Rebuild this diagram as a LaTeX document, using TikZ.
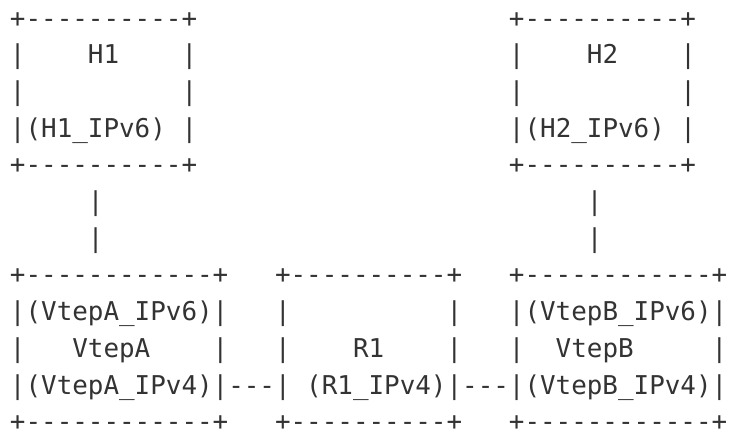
\documentclass[tikz,border=0pt]{standalone}
\usepackage{fontspec}
\setmonofont{DejaVu Sans Mono}
\definecolor{ink}{HTML}{333333}
\begin{document}
\begin{tikzpicture}[x=0.5pt,y=-0.5pt,
  ascii/.style={anchor=base west, inner sep=0pt, outer sep=0pt, text=ink,
    font=\ttfamily\fontsize{12.95pt}{18pt}\selectfont}]
\useasboundingbox (0,0) rectangle (729,434);
\node[ascii] (l1)  at (10,27.0)  {+----------+~~~~~~~~~~~~~~~~~~~~+----------+};
\node[ascii] (l2)  at (10,63.7)  {|~~~~H1~~~~|~~~~~~~~~~~~~~~~~~~~|~~~~H2~~~~|};
\node[ascii] (l3)  at (10,100.4) {|~~~~~~~~~~|~~~~~~~~~~~~~~~~~~~~|~~~~~~~~~~|};
\node[ascii] (l4)  at (10,137.1) {|(H1\_IPv6)~|~~~~~~~~~~~~~~~~~~~~|(H2\_IPv6)~|};
\node[ascii] (l5)  at (10,173.8) {+----------+~~~~~~~~~~~~~~~~~~~~+----------+};
\node[ascii] (l6)  at (10,210.5) {~~~~~|~~~~~~~~~~~~~~~~~~~~~~~~~~~~~~~|};
\node[ascii] (l7)  at (10,247.2) {~~~~~|~~~~~~~~~~~~~~~~~~~~~~~~~~~~~~~|};
\node[ascii] (l8)  at (10,283.9) {+------------+~~~+----------+~~~+------------+};
\node[ascii] (l9)  at (10,320.6) {|(VtepA\_IPv6)|~~~|~~~~~~~~~~|~~~|(VtepB\_IPv6)|};
\node[ascii] (l10) at (10,357.3) {|~~~VtepA~~~~|~~~|~~~~R1~~~~|~~~|~~VtepB~~~~~|};
\node[ascii] (l11) at (10,394.0) {|(VtepA\_IPv4)|---|~(R1\_IPv4)|---|(VtepB\_IPv4)|};
\node[ascii] (l12) at (10,430.7) {+------------+~~~+----------+~~~+------------+};
\end{tikzpicture}
\end{document}
